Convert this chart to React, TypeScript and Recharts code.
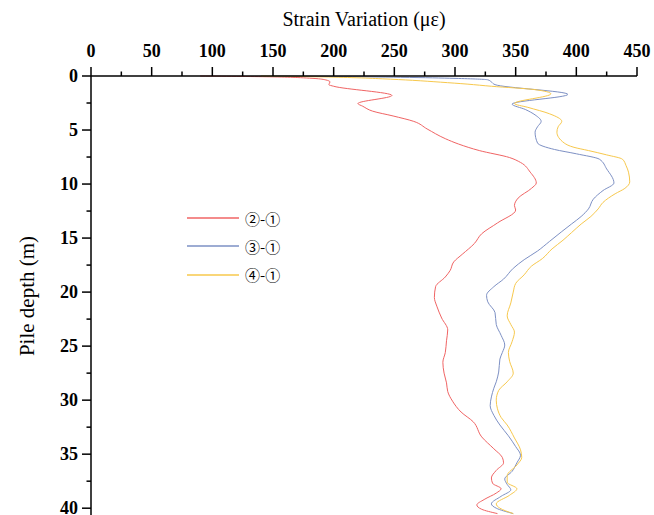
import { LineChart, Line, XAxis, YAxis, Legend } from 'recharts'

// pile depth (m) / strain variation (με)
const redDepth = [0, 0.08, 0.2, 0.35, 0.55, 0.8, 0.95, 1.8, 2.55, 2.8, 3.25, 3.7, 4.2, 4.9, 5.8, 6.3, 6.9, 7.55, 8.0, 8.9, 9.9, 10.4, 11.3, 12.0, 12.4, 13.6, 14.6, 15.5, 16.5, 17.2, 18.0, 18.6, 19.5, 20.5, 21.3, 22.4, 23.5, 24.5, 25.6, 26.5, 27.5, 28.4, 29.2, 30.1, 31.1, 32.0, 33.4, 34.5, 35.3, 35.8, 36.5, 37.2, 37.7, 38.2, 38.6, 39.2, 39.7, 40.1, 40.5]
const redStrain = [90, 150, 180, 193, 197, 196, 200, 248, 220, 224, 232, 249, 266, 277, 292, 303, 320, 345, 354, 362, 367, 363, 352, 349, 350, 335, 322, 316, 306, 299, 296, 292, 284, 283, 285, 289, 294, 293, 292, 290, 291, 293, 294, 298, 305, 315, 322, 332, 339, 340, 334, 330, 331, 338, 334, 324, 318, 322, 335]

const blueDepth = [0, 0.05, 0.12, 0.22, 0.35, 0.55, 0.8, 1.7, 2.6, 3.1, 3.6, 4.2, 4.7, 5.2, 6.2, 6.8, 7.2, 7.7, 8.6, 9.9, 10.6, 11.4, 12.3, 13.0, 13.7, 14.4, 15.3, 16.2, 17.0, 17.8, 18.8, 19.5, 20.3, 20.9, 21.9, 23.0, 24.0, 24.9, 25.6, 26.2, 27.4, 28.3, 28.9, 29.7, 30.5, 31.4, 32.3, 33.3, 34.3, 35.1, 35.8, 36.6, 37.3, 37.8, 38.3, 38.9, 39.6, 40.0, 40.5]
const blueStrain = [150, 200, 255, 300, 327, 330, 333, 393, 347, 358, 366, 371, 368, 366, 368, 382, 400, 419, 425, 431, 422, 414, 410, 404, 396, 388, 378, 368, 357, 348, 340, 332, 326, 327, 333, 334, 338, 341, 339, 337, 336, 334, 332, 330, 329, 332, 337, 344, 350, 354, 351, 347, 341, 343, 346, 338, 330, 334, 348]

const yellowDepth = [0, 0.06, 0.15, 0.26, 0.4, 0.57, 0.75, 0.95, 1.25, 1.65, 2.55, 2.9, 3.5, 4.2, 4.7, 5.2, 6.2, 6.6, 6.9, 7.3, 7.7, 8.3, 8.9, 9.8, 10.4, 10.9, 11.7, 12.3, 13.0, 13.7, 14.5, 15.2, 16.0, 16.9, 17.6, 18.4, 19.2, 20.0, 21.0, 22.2, 23.0, 23.7, 24.6, 25.6, 26.4, 27.5, 28.3, 29.1, 30.0, 30.8, 31.6, 32.3, 33.5, 34.6, 35.3, 36.0, 37.0, 37.6, 38.2, 38.8, 39.6, 40.0, 40.5]
const yellowStrain = [140, 180, 215, 240, 265, 288, 310, 330, 365, 379, 349, 360, 378, 388, 385, 384, 390, 398, 410, 425, 438, 441, 443, 444, 440, 432, 422, 418, 412, 404, 396, 389, 380, 372, 363, 357, 350, 348, 346, 343, 346, 349, 347, 344, 345, 348, 343, 336, 334, 335, 338, 343, 349, 354, 355, 351, 343, 343, 351, 345, 334, 337, 348]

const strainTicks = [0, 25, 50, 75, 100, 125, 150, 175, 200, 225, 250, 275, 300, 325, 350, 375, 400, 425, 450]
const depthTicks = [0, 2.5, 5, 7.5, 10, 12.5, 15, 17.5, 20, 22.5, 25, 27.5, 30, 32.5, 35, 37.5, 40]

const zip = (depth: number[], strain: number[]) => depth.map((d, i) => ({ depth: d, strain: strain[i] }))

const series = [
  { name: '②-①', color: '#f06464', data: zip(redDepth, redStrain) },
  { name: '③-①', color: '#7d90c4', data: zip(blueDepth, blueStrain) },
  { name: '④-①', color: '#f7c84c', data: zip(yellowDepth, yellowStrain) },
]

const serif = '"Liberation Serif", "Times New Roman", serif'

function StrainTick({ x, y, payload }: any) {
  const major = payload.value % 50 === 0
  return (
    <g>
      <line x1={x} y1={y} x2={x} y2={y - (major ? 9 : 4.5)} stroke="#000" strokeWidth={1.5} />
      {major && (
        <text x={x} y={y - 19} textAnchor="middle" fontFamily={serif} fontWeight="bold" fontSize={18} fill="#000">
          {payload.value}
        </text>
      )}
    </g>
  )
}

function DepthTick({ x, y, payload }: any) {
  const major = payload.value % 5 === 0
  return (
    <g>
      <line x1={x} y1={y} x2={x - (major ? 9 : 4.5)} y2={y} stroke="#000" strokeWidth={1.5} />
      {major && (
        <text x={x - 13} y={y} dy="0.35em" textAnchor="end" fontFamily={serif} fontWeight="bold" fontSize={18} fill="#000">
          {payload.value}
        </text>
      )}
    </g>
  )
}

function LegendBox({ payload }: any) {
  return (
    <div>
      {(payload || []).map((p: any) => (
        <div key={p.value} style={{ display: 'flex', alignItems: 'center', height: 28.3 }}>
          <svg width={52} height={4} style={{ display: 'block' }}>
            <line x1={0} y1={2} x2={52} y2={2} stroke={p.color} strokeWidth={1.5} />
          </svg>
          <span style={{ marginLeft: 6, fontFamily: '"Noto Sans CJK SC", "DejaVu Sans", sans-serif', fontSize: 15, color: '#000', lineHeight: 1 }}>
            {p.value}
          </span>
        </div>
      ))}
    </div>
  )
}

export default function App() {
  return (
    <div style={{ position: 'absolute', left: 0, top: 0, background: '#fff' }}>
      <LineChart width={654} height={530} layout="vertical" margin={{ top: 0, right: 17, bottom: 11, left: 0 }}>
        <XAxis
          type="number"
          orientation="top"
          height={76}
          domain={[0, 450]}
          ticks={strainTicks}
          interval={0}
          tickSize={0}
          tickMargin={0}
          tickLine={false}
          tick={<StrainTick />}
          axisLine={{ stroke: '#000', strokeWidth: 1.5 }}
          label={{
            content: () => (
              <text x={364} y={26} textAnchor="middle" fontFamily={serif} fontSize={20} fill="#000">
                Strain Variation (με)
              </text>
            ),
          }}
        />
        <YAxis
          type="number"
          dataKey="depth"
          width={91}
          domain={[0, 41]}
          ticks={depthTicks}
          interval={0}
          tickSize={0}
          tickMargin={0}
          tickLine={false}
          tick={<DepthTick />}
          axisLine={{ stroke: '#000', strokeWidth: 1.5 }}
          label={{
            content: () => (
              <text x={27} y={296} transform="rotate(-90 27 296)" textAnchor="middle" dominantBaseline="central" fontFamily={serif} fontSize={21} fill="#000">
                Pile depth (m)
              </text>
            ),
          }}
        />
        <Legend
          layout="horizontal"
          verticalAlign="middle"
          align="center"
          content={<LegendBox />}
          wrapperStyle={{ top: 204, left: 187, width: 120, height: 90 }}
        />
        {series.map((s) => (
          <Line
            key={s.name}
            name={s.name}
            data={s.data}
            dataKey="strain"
            type="monotone"
            stroke={s.color}
            strokeWidth={1}
            dot={false}
            activeDot={false}
            isAnimationActive={false}
          />
        ))}
      </LineChart>
    </div>
  )
}
